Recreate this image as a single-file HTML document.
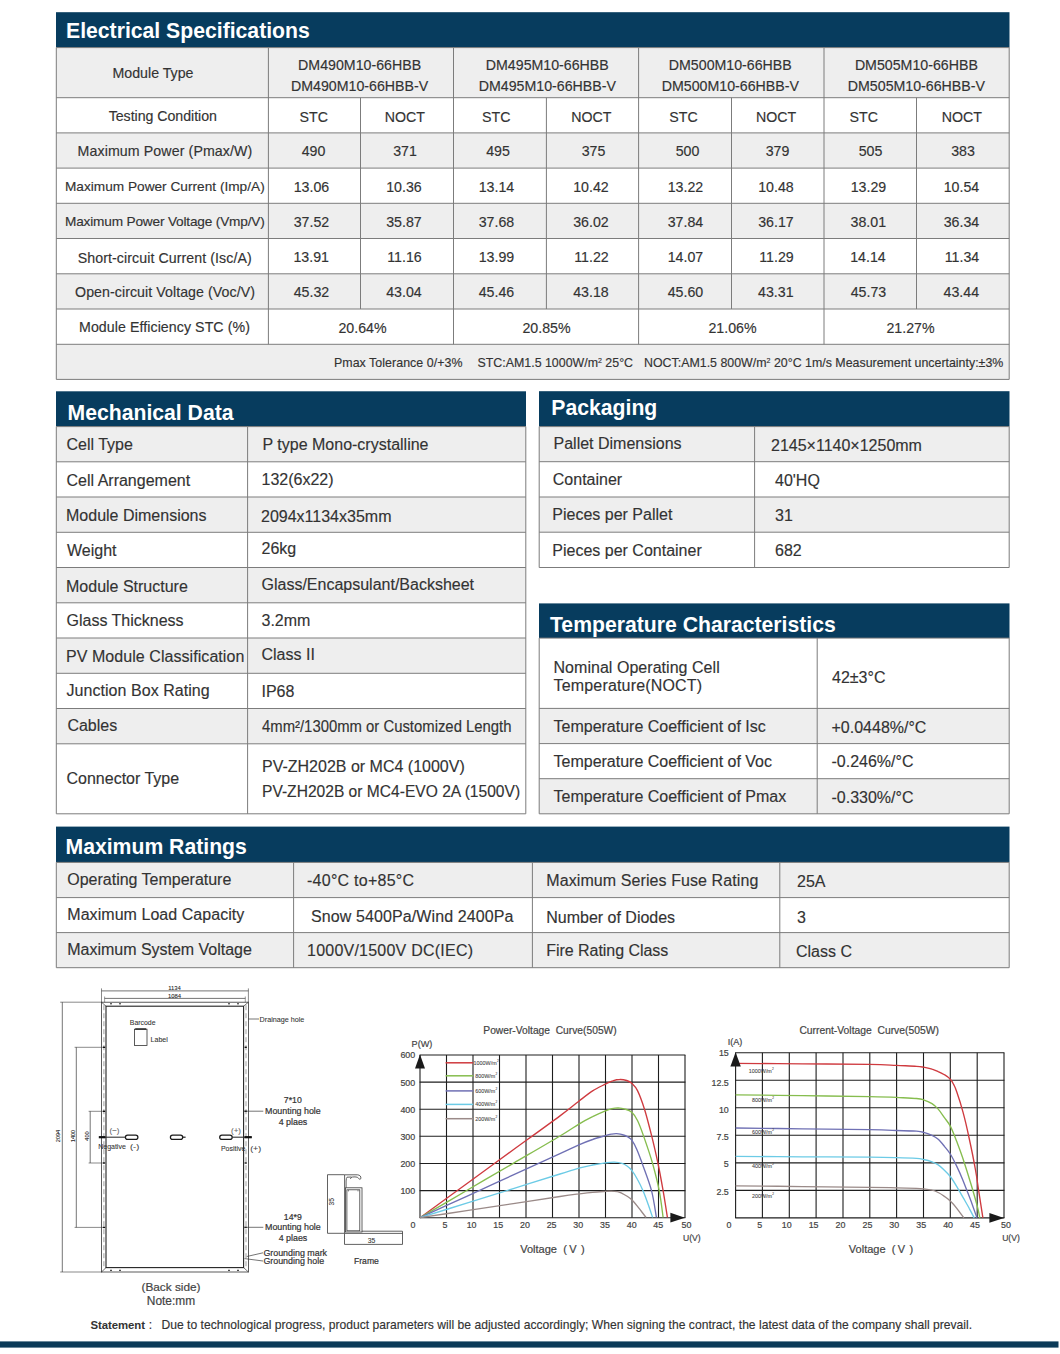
<!DOCTYPE html>
<html><head><meta charset="utf-8"><title>Datasheet</title>
<style>
html,body{margin:0;padding:0;background:#fff;}
body{width:1060px;height:1354px;position:relative;overflow:hidden;font-family:"Liberation Sans",sans-serif;color:#333333;}
.t{position:absolute;white-space:nowrap;line-height:20px;height:20px;-webkit-text-stroke-width:0.15px;}
svg{position:absolute;left:0;top:0;}
svg text{font-family:"Liberation Sans",sans-serif;}
</style></head><body>
<svg width="1060" height="1354" viewBox="0 0 1060 1354">
<rect x="56.0" y="12.2" width="953.5" height="35.4" fill="#073c5e"/>
<rect x="56.3" y="47.6" width="952.9" height="50.1" fill="#eeeeee"/>
<rect x="56.3" y="97.7" width="952.9" height="35.2" fill="#fff"/>
<rect x="56.3" y="132.9" width="952.9" height="35.2" fill="#eeeeee"/>
<rect x="56.3" y="168.1" width="952.9" height="35.2" fill="#fff"/>
<rect x="56.3" y="203.3" width="952.9" height="35.2" fill="#eeeeee"/>
<rect x="56.3" y="238.5" width="952.9" height="35.3" fill="#fff"/>
<rect x="56.3" y="273.8" width="952.9" height="35.2" fill="#eeeeee"/>
<rect x="56.3" y="309.0" width="952.9" height="35.3" fill="#fff"/>
<rect x="56.3" y="344.3" width="952.9" height="35.1" fill="#eeeeee"/>
<line x1="56.3" y1="97.7" x2="1009.2" y2="97.7" stroke="#7c7c7c" stroke-width="1.0"/>
<line x1="56.3" y1="132.9" x2="1009.2" y2="132.9" stroke="#7c7c7c" stroke-width="1.0"/>
<line x1="56.3" y1="168.1" x2="1009.2" y2="168.1" stroke="#7c7c7c" stroke-width="1.0"/>
<line x1="56.3" y1="203.3" x2="1009.2" y2="203.3" stroke="#7c7c7c" stroke-width="1.0"/>
<line x1="56.3" y1="238.5" x2="1009.2" y2="238.5" stroke="#7c7c7c" stroke-width="1.0"/>
<line x1="56.3" y1="273.8" x2="1009.2" y2="273.8" stroke="#7c7c7c" stroke-width="1.0"/>
<line x1="56.3" y1="309.0" x2="1009.2" y2="309.0" stroke="#7c7c7c" stroke-width="1.0"/>
<line x1="56.3" y1="344.3" x2="1009.2" y2="344.3" stroke="#7c7c7c" stroke-width="1.0"/>
<line x1="56.3" y1="379.4" x2="1009.2" y2="379.4" stroke="#7c7c7c" stroke-width="1.0"/>
<line x1="56.3" y1="47.6" x2="1009.2" y2="47.6" stroke="#7c7c7c" stroke-width="1.0"/>
<line x1="56.3" y1="47.6" x2="56.3" y2="379.4" stroke="#7c7c7c" stroke-width="1.0"/>
<line x1="1009.2" y1="47.6" x2="1009.2" y2="379.4" stroke="#7c7c7c" stroke-width="1.0"/>
<line x1="268.4" y1="47.6" x2="268.4" y2="344.3" stroke="#7c7c7c" stroke-width="1.0"/>
<line x1="360.5" y1="97.7" x2="360.5" y2="309.0" stroke="#7c7c7c" stroke-width="1.0"/>
<line x1="453.5" y1="47.6" x2="453.5" y2="344.3" stroke="#7c7c7c" stroke-width="1.0"/>
<line x1="546.4" y1="97.7" x2="546.4" y2="309.0" stroke="#7c7c7c" stroke-width="1.0"/>
<line x1="638.6" y1="47.6" x2="638.6" y2="344.3" stroke="#7c7c7c" stroke-width="1.0"/>
<line x1="731.5" y1="97.7" x2="731.5" y2="309.0" stroke="#7c7c7c" stroke-width="1.0"/>
<line x1="824.0" y1="47.6" x2="824.0" y2="344.3" stroke="#7c7c7c" stroke-width="1.0"/>
<line x1="916.5" y1="97.7" x2="916.5" y2="309.0" stroke="#7c7c7c" stroke-width="1.0"/>
<rect x="56.0" y="391.3" width="470.0" height="35.3" fill="#073c5e"/>
<rect x="56.3" y="426.6" width="469.5" height="35.2" fill="#eeeeee"/>
<rect x="56.3" y="461.8" width="469.5" height="35.2" fill="#fff"/>
<rect x="56.3" y="497.0" width="469.5" height="35.3" fill="#eeeeee"/>
<rect x="56.3" y="532.3" width="469.5" height="35.2" fill="#fff"/>
<rect x="56.3" y="567.5" width="469.5" height="35.3" fill="#eeeeee"/>
<rect x="56.3" y="602.8" width="469.5" height="35.2" fill="#fff"/>
<rect x="56.3" y="638.0" width="469.5" height="35.3" fill="#eeeeee"/>
<rect x="56.3" y="673.3" width="469.5" height="35.2" fill="#fff"/>
<rect x="56.3" y="708.5" width="469.5" height="35.3" fill="#eeeeee"/>
<rect x="56.3" y="743.8" width="469.5" height="70.0" fill="#fff"/>
<line x1="56.3" y1="461.8" x2="525.8" y2="461.8" stroke="#7c7c7c" stroke-width="1.0"/>
<line x1="56.3" y1="497.0" x2="525.8" y2="497.0" stroke="#7c7c7c" stroke-width="1.0"/>
<line x1="56.3" y1="532.3" x2="525.8" y2="532.3" stroke="#7c7c7c" stroke-width="1.0"/>
<line x1="56.3" y1="567.5" x2="525.8" y2="567.5" stroke="#7c7c7c" stroke-width="1.0"/>
<line x1="56.3" y1="602.8" x2="525.8" y2="602.8" stroke="#7c7c7c" stroke-width="1.0"/>
<line x1="56.3" y1="638.0" x2="525.8" y2="638.0" stroke="#7c7c7c" stroke-width="1.0"/>
<line x1="56.3" y1="673.3" x2="525.8" y2="673.3" stroke="#7c7c7c" stroke-width="1.0"/>
<line x1="56.3" y1="708.5" x2="525.8" y2="708.5" stroke="#7c7c7c" stroke-width="1.0"/>
<line x1="56.3" y1="743.8" x2="525.8" y2="743.8" stroke="#7c7c7c" stroke-width="1.0"/>
<line x1="56.3" y1="813.8" x2="525.8" y2="813.8" stroke="#7c7c7c" stroke-width="1.0"/>
<line x1="56.3" y1="426.6" x2="525.8" y2="426.6" stroke="#7c7c7c" stroke-width="1.0"/>
<line x1="56.3" y1="426.6" x2="56.3" y2="813.8" stroke="#7c7c7c" stroke-width="1.0"/>
<line x1="525.8" y1="426.6" x2="525.8" y2="813.8" stroke="#7c7c7c" stroke-width="1.0"/>
<line x1="247.6" y1="426.6" x2="247.6" y2="813.8" stroke="#7c7c7c" stroke-width="1.0"/>
<rect x="539.0" y="391.2" width="470.5" height="35.4" fill="#073c5e"/>
<rect x="539.2" y="426.6" width="470.0" height="35.1" fill="#eeeeee"/>
<rect x="539.2" y="461.7" width="470.0" height="35.3" fill="#fff"/>
<rect x="539.2" y="497.0" width="470.0" height="35.2" fill="#eeeeee"/>
<rect x="539.2" y="532.2" width="470.0" height="35.3" fill="#fff"/>
<line x1="539.2" y1="461.7" x2="1009.2" y2="461.7" stroke="#7c7c7c" stroke-width="1.0"/>
<line x1="539.2" y1="497.0" x2="1009.2" y2="497.0" stroke="#7c7c7c" stroke-width="1.0"/>
<line x1="539.2" y1="532.2" x2="1009.2" y2="532.2" stroke="#7c7c7c" stroke-width="1.0"/>
<line x1="539.2" y1="567.5" x2="1009.2" y2="567.5" stroke="#7c7c7c" stroke-width="1.0"/>
<line x1="539.2" y1="426.6" x2="1009.2" y2="426.6" stroke="#7c7c7c" stroke-width="1.0"/>
<line x1="539.2" y1="426.6" x2="539.2" y2="567.5" stroke="#7c7c7c" stroke-width="1.0"/>
<line x1="1009.2" y1="426.6" x2="1009.2" y2="567.5" stroke="#7c7c7c" stroke-width="1.0"/>
<line x1="754.6" y1="426.6" x2="754.6" y2="567.5" stroke="#7c7c7c" stroke-width="1.0"/>
<rect x="539.0" y="603.4" width="470.5" height="34.7" fill="#073c5e"/>
<rect x="539.2" y="638.1" width="470.0" height="70.3" fill="#fff"/>
<rect x="539.2" y="708.4" width="470.0" height="35.2" fill="#eeeeee"/>
<rect x="539.2" y="743.6" width="470.0" height="35.1" fill="#fff"/>
<rect x="539.2" y="778.7" width="470.0" height="35.1" fill="#eeeeee"/>
<line x1="539.2" y1="708.4" x2="1009.2" y2="708.4" stroke="#7c7c7c" stroke-width="1.0"/>
<line x1="539.2" y1="743.6" x2="1009.2" y2="743.6" stroke="#7c7c7c" stroke-width="1.0"/>
<line x1="539.2" y1="778.7" x2="1009.2" y2="778.7" stroke="#7c7c7c" stroke-width="1.0"/>
<line x1="539.2" y1="813.8" x2="1009.2" y2="813.8" stroke="#7c7c7c" stroke-width="1.0"/>
<line x1="539.2" y1="638.1" x2="1009.2" y2="638.1" stroke="#7c7c7c" stroke-width="1.0"/>
<line x1="539.2" y1="638.1" x2="539.2" y2="813.8" stroke="#7c7c7c" stroke-width="1.0"/>
<line x1="1009.2" y1="638.1" x2="1009.2" y2="813.8" stroke="#7c7c7c" stroke-width="1.0"/>
<line x1="817.2" y1="638.1" x2="817.2" y2="813.8" stroke="#7c7c7c" stroke-width="1.0"/>
<rect x="56.0" y="826.6" width="953.5" height="35.8" fill="#073c5e"/>
<rect x="56.3" y="862.4" width="952.9" height="35.2" fill="#eeeeee"/>
<rect x="56.3" y="897.6" width="952.9" height="35.0" fill="#fff"/>
<rect x="56.3" y="932.6" width="952.9" height="35.1" fill="#eeeeee"/>
<line x1="56.3" y1="897.6" x2="1009.2" y2="897.6" stroke="#7c7c7c" stroke-width="1.0"/>
<line x1="56.3" y1="932.6" x2="1009.2" y2="932.6" stroke="#7c7c7c" stroke-width="1.0"/>
<line x1="56.3" y1="967.7" x2="1009.2" y2="967.7" stroke="#7c7c7c" stroke-width="1.0"/>
<line x1="56.3" y1="862.4" x2="1009.2" y2="862.4" stroke="#7c7c7c" stroke-width="1.0"/>
<line x1="56.3" y1="862.4" x2="56.3" y2="967.7" stroke="#7c7c7c" stroke-width="1.0"/>
<line x1="1009.2" y1="862.4" x2="1009.2" y2="967.7" stroke="#7c7c7c" stroke-width="1.0"/>
<line x1="293.6" y1="862.4" x2="293.6" y2="967.7" stroke="#7c7c7c" stroke-width="1.0"/>
<line x1="532.4" y1="862.4" x2="532.4" y2="967.7" stroke="#7c7c7c" stroke-width="1.0"/>
<line x1="779.8" y1="862.4" x2="779.8" y2="967.7" stroke="#7c7c7c" stroke-width="1.0"/>
<rect x="0" y="1341.4" width="1058.5" height="6.2" fill="#0b3a58"/>
<rect x="101.5" y="1002.2" width="146.9" height="269.8" fill="none" stroke="#333" stroke-width="0.8" rx="0"/>
<rect x="106.0" y="1006.2" width="137.6" height="261.4" fill="none" stroke="#222" stroke-width="1.1" rx="0"/>
<line x1="103.9" y1="1005.2" x2="103.9" y2="1269.0" stroke="#777" stroke-width="0.7" stroke-dasharray="5 3"/>
<line x1="246.0" y1="1005.2" x2="246.0" y2="1269.0" stroke="#777" stroke-width="0.7" stroke-dasharray="5 3"/>
<line x1="101.5" y1="1002.2" x2="106.0" y2="1006.2" stroke="#333" stroke-width="0.7" />
<line x1="248.4" y1="1002.2" x2="243.6" y2="1006.2" stroke="#333" stroke-width="0.7" />
<line x1="101.5" y1="1272.0" x2="106.0" y2="1267.6" stroke="#333" stroke-width="0.7" />
<line x1="248.4" y1="1272.0" x2="243.6" y2="1267.6" stroke="#333" stroke-width="0.7" />
<line x1="110.0" y1="1003.8" x2="112.0" y2="1003.8" stroke="#222" stroke-width="1.0" />
<line x1="110.0" y1="1270.3" x2="112.0" y2="1270.3" stroke="#222" stroke-width="1.0" />
<line x1="119.0" y1="1003.8" x2="121.0" y2="1003.8" stroke="#222" stroke-width="1.0" />
<line x1="119.0" y1="1270.3" x2="121.0" y2="1270.3" stroke="#222" stroke-width="1.0" />
<line x1="228.0" y1="1003.8" x2="230.0" y2="1003.8" stroke="#222" stroke-width="1.0" />
<line x1="228.0" y1="1270.3" x2="230.0" y2="1270.3" stroke="#222" stroke-width="1.0" />
<line x1="237.0" y1="1003.8" x2="239.0" y2="1003.8" stroke="#222" stroke-width="1.0" />
<line x1="237.0" y1="1270.3" x2="239.0" y2="1270.3" stroke="#222" stroke-width="1.0" />
<line x1="101.5" y1="988.4" x2="101.5" y2="1002.2" stroke="#3a3a3a" stroke-width="0.6" />
<line x1="248.4" y1="988.4" x2="248.4" y2="1002.2" stroke="#3a3a3a" stroke-width="0.6" />
<line x1="101.5" y1="990.9" x2="248.4" y2="990.9" stroke="#3a3a3a" stroke-width="0.7" />
<text x="174.5" y="990.01" font-size="5.9" text-anchor="middle" fill="#222" stroke="#222" stroke-width="0.08">1134</text>
<line x1="104.6" y1="996.5" x2="104.6" y2="1002.2" stroke="#3a3a3a" stroke-width="0.5" />
<line x1="245.3" y1="996.5" x2="245.3" y2="1002.2" stroke="#3a3a3a" stroke-width="0.5" />
<line x1="104.6" y1="998.4" x2="245.3" y2="998.4" stroke="#3a3a3a" stroke-width="0.7" />
<text x="174.5" y="997.71" font-size="5.9" text-anchor="middle" fill="#222" stroke="#222" stroke-width="0.08">1084</text>
<line x1="60.2" y1="1002.2" x2="101.5" y2="1002.2" stroke="#3a3a3a" stroke-width="0.6" />
<line x1="60.2" y1="1272.0" x2="101.5" y2="1272.0" stroke="#3a3a3a" stroke-width="0.6" />
<line x1="62.3" y1="1002.2" x2="62.3" y2="1272.0" stroke="#3a3a3a" stroke-width="0.7" />
<text x="58.4" y="1138.00" font-size="5.6" text-anchor="middle" fill="#222" stroke="#222" stroke-width="0.08" transform="rotate(-90 58.4 1136.0)">2094</text>
<line x1="74.6" y1="1047.3" x2="104.0" y2="1047.3" stroke="#3a3a3a" stroke-width="0.6" />
<line x1="74.6" y1="1227.4" x2="104.0" y2="1227.4" stroke="#3a3a3a" stroke-width="0.6" />
<line x1="76.3" y1="1047.3" x2="76.3" y2="1227.4" stroke="#3a3a3a" stroke-width="0.7" />
<text x="72.9" y="1138.00" font-size="5.6" text-anchor="middle" fill="#222" stroke="#222" stroke-width="0.08" transform="rotate(-90 72.9 1136.0)">1400</text>
<line x1="88.6" y1="1111.3" x2="104.0" y2="1111.3" stroke="#3a3a3a" stroke-width="0.6" />
<line x1="88.6" y1="1163.0" x2="104.0" y2="1163.0" stroke="#3a3a3a" stroke-width="0.6" />
<line x1="90.2" y1="1111.3" x2="90.2" y2="1163.0" stroke="#3a3a3a" stroke-width="0.7" />
<text x="87.1" y="1138.00" font-size="5.6" text-anchor="middle" fill="#222" stroke="#222" stroke-width="0.08" transform="rotate(-90 87.1 1136.0)">400</text>
<line x1="103.0" y1="1047.3" x2="105.2" y2="1047.3" stroke="#111" stroke-width="1.4" />
<line x1="244.6" y1="1047.3" x2="246.8" y2="1047.3" stroke="#111" stroke-width="1.4" />
<line x1="103.0" y1="1111.3" x2="105.2" y2="1111.3" stroke="#111" stroke-width="1.4" />
<line x1="244.6" y1="1111.3" x2="246.8" y2="1111.3" stroke="#111" stroke-width="1.4" />
<line x1="103.0" y1="1163.0" x2="105.2" y2="1163.0" stroke="#111" stroke-width="1.4" />
<line x1="244.6" y1="1163.0" x2="246.8" y2="1163.0" stroke="#111" stroke-width="1.4" />
<line x1="103.0" y1="1227.4" x2="105.2" y2="1227.4" stroke="#111" stroke-width="1.4" />
<line x1="244.6" y1="1227.4" x2="246.8" y2="1227.4" stroke="#111" stroke-width="1.4" />
<text x="129.8" y="1025.47" font-size="6.9" text-anchor="start" fill="#333" stroke="#333" stroke-width="0.08">Barcode</text>
<rect x="134.4" y="1029.2" width="12.6" height="16.3" fill="none" stroke="#333" stroke-width="0.8" rx="0"/>
<line x1="135.2" y1="1029.0" x2="146.2" y2="1029.0" stroke="#111" stroke-width="1.3" />
<text x="150.6" y="1042.41" font-size="7.0" text-anchor="start" fill="#333" stroke="#333" stroke-width="0.08">Label</text>
<rect x="125.4" y="1135.0" width="12.5" height="4.4" fill="none" stroke="#1a1a1a" stroke-width="1.25" rx="2.2"/>
<rect x="170.4" y="1135.0" width="12.3" height="4.4" fill="none" stroke="#1a1a1a" stroke-width="1.25" rx="2.2"/>
<rect x="219.7" y="1135.0" width="12.5" height="4.4" fill="none" stroke="#1a1a1a" stroke-width="1.25" rx="2.2"/>
<line x1="182.7" y1="1137.2" x2="185.6" y2="1137.2" stroke="#222" stroke-width="1.2" />
<line x1="99.0" y1="1137.2" x2="125.4" y2="1137.2" stroke="#333" stroke-width="1.1" />
<line x1="98.8" y1="1137.2" x2="105.4" y2="1137.2" stroke="#111" stroke-width="2.2" />
<line x1="232.2" y1="1137.2" x2="251.6" y2="1137.2" stroke="#333" stroke-width="1.1" />
<line x1="244.5" y1="1137.2" x2="251.8" y2="1137.2" stroke="#111" stroke-width="2.2" />
<text x="114.5" y="1133.46" font-size="8" text-anchor="middle" fill="#666" stroke="#666" stroke-width="0.08">(&#8722;)</text>
<text x="236.0" y="1132.66" font-size="8" text-anchor="middle" fill="#666" stroke="#666" stroke-width="0.08">(+)</text>
<text x="98.2" y="1149.11" font-size="7.0" text-anchor="start" fill="#333" stroke="#333" stroke-width="0.08">Negative</text>
<text x="130.0" y="1149.18" font-size="7.2" text-anchor="start" fill="#444" stroke="#444" stroke-width="0.08" textLength="9.2" lengthAdjust="spacingAndGlyphs">(-)</text>
<text x="220.9" y="1150.51" font-size="7.0" text-anchor="start" fill="#333" stroke="#333" stroke-width="0.08">Positive</text>
<text x="250.2" y="1150.58" font-size="7.2" text-anchor="start" fill="#444" stroke="#444" stroke-width="0.08" textLength="11.0" lengthAdjust="spacingAndGlyphs">(+)</text>
<line x1="248.4" y1="1019.0" x2="259.0" y2="1019.0" stroke="#3a3a3a" stroke-width="0.7" />
<text x="259.6" y="1021.78" font-size="7.2" text-anchor="start" fill="#333" stroke="#333" stroke-width="0.08">Drainage hole</text>
<text x="292.8" y="1103.31" font-size="8.7" text-anchor="middle" fill="#333" stroke="#333" stroke-width="0.2">7*10</text>
<line x1="243.6" y1="1111.2" x2="263.3" y2="1111.2" stroke="#3a3a3a" stroke-width="0.7" />
<text x="265.0" y="1114.39" font-size="8.9" text-anchor="start" fill="#333" stroke="#333" stroke-width="0.2">Mounting hole</text>
<text x="293.0" y="1124.59" font-size="8.9" text-anchor="middle" fill="#333" stroke="#333" stroke-width="0.2">4 plaes</text>
<text x="292.8" y="1219.51" font-size="8.7" text-anchor="middle" fill="#333" stroke="#333" stroke-width="0.2">14*9</text>
<line x1="243.6" y1="1227.3" x2="263.3" y2="1227.3" stroke="#3a3a3a" stroke-width="0.7" />
<text x="265.0" y="1230.49" font-size="8.9" text-anchor="start" fill="#333" stroke="#333" stroke-width="0.2">Mounting hole</text>
<text x="293.0" y="1241.19" font-size="8.9" text-anchor="middle" fill="#333" stroke="#333" stroke-width="0.2">4 plaes</text>
<line x1="246.8" y1="1256.5" x2="263.0" y2="1252.8" stroke="#3a3a3a" stroke-width="0.7" />
<line x1="244.5" y1="1258.6" x2="263.0" y2="1261.0" stroke="#3a3a3a" stroke-width="0.7" />
<text x="263.4" y="1255.79" font-size="8.9" text-anchor="start" fill="#333" stroke="#333" stroke-width="0.2">Grounding mark</text>
<text x="263.4" y="1264.19" font-size="8.9" text-anchor="start" fill="#333" stroke="#333" stroke-width="0.2">Grounding hole</text>
<text x="171.0" y="1290.52" font-size="11.8" text-anchor="middle" fill="#444" stroke="#444" stroke-width="0.2">(Back side)</text>
<text x="171.0" y="1305.26" font-size="11.9" text-anchor="middle" fill="#444" stroke="#444" stroke-width="0.2" textLength="48.3" lengthAdjust="spacingAndGlyphs">Note:mm</text>
<line x1="327.5" y1="1174.7" x2="344.5" y2="1174.7" stroke="#3a3a3a" stroke-width="0.8" />
<line x1="327.5" y1="1174.7" x2="327.5" y2="1233.3" stroke="#3a3a3a" stroke-width="0.8" />
<line x1="327.5" y1="1233.3" x2="344.5" y2="1233.3" stroke="#3a3a3a" stroke-width="0.8" />
<text x="331.9" y="1204.06" font-size="6.6" text-anchor="middle" fill="#333" stroke="#333" stroke-width="0.08" transform="rotate(-90 331.9 1201.7)">35</text>
<path d="M344.6,1233.2 L344.6,1174.8 L357.5,1174.8 Q361.2,1175.2 360.9,1178.6 Q360.0,1180.2 358.6,1178.4 Q357.8,1176.8 355.0,1176.9 L352.5,1177.0 Q350.8,1177.2 350.4,1178.9 M351.5,1177.0 L347.0,1177.2 Q346.2,1178 346.1,1181 L346.1,1187.6" fill="none" stroke="#3a3a3a" stroke-width="0.8"/>
<rect x="345.4" y="1187.8" width="16.6" height="44.2" fill="none" stroke="#3a3a3a" stroke-width="0.8" rx="0"/>
<rect x="346.9" y="1189.8" width="12.9" height="41.0" fill="none" stroke="#3a3a3a" stroke-width="0.8" rx="0"/>
<line x1="348.0" y1="1190.8" x2="349.0" y2="1190.8" stroke="#333" stroke-width="0.8" />
<line x1="357.5" y1="1190.8" x2="358.5" y2="1190.8" stroke="#333" stroke-width="0.8" />
<line x1="362.0" y1="1231.2" x2="402.4" y2="1231.2" stroke="#3a3a3a" stroke-width="0.8" />
<line x1="344.5" y1="1233.4" x2="402.6" y2="1233.4" stroke="#3a3a3a" stroke-width="0.8" />
<line x1="402.5" y1="1231.2" x2="402.5" y2="1244.4" stroke="#3a3a3a" stroke-width="0.8" />
<line x1="344.5" y1="1233.4" x2="344.5" y2="1244.4" stroke="#3a3a3a" stroke-width="0.8" />
<line x1="344.5" y1="1244.4" x2="402.5" y2="1244.4" stroke="#3a3a3a" stroke-width="0.8" />
<text x="371.6" y="1242.93" font-size="6.8" text-anchor="middle" fill="#333" stroke="#333" stroke-width="0.08">35</text>
<text x="354.0" y="1263.58" font-size="8.6" text-anchor="start" fill="#333" stroke="#333" stroke-width="0.2">Frame</text>
<line x1="420.0" y1="1055.0" x2="420.0" y2="1217.7" stroke="#1e1e1e" stroke-width="1.1" />
<line x1="446.5" y1="1055.0" x2="446.5" y2="1217.7" stroke="#1e1e1e" stroke-width="1.1" />
<line x1="473.0" y1="1055.0" x2="473.0" y2="1217.7" stroke="#1e1e1e" stroke-width="1.1" />
<line x1="499.5" y1="1055.0" x2="499.5" y2="1217.7" stroke="#1e1e1e" stroke-width="1.1" />
<line x1="526.0" y1="1055.0" x2="526.0" y2="1217.7" stroke="#1e1e1e" stroke-width="1.1" />
<line x1="552.5" y1="1055.0" x2="552.5" y2="1217.7" stroke="#1e1e1e" stroke-width="1.1" />
<line x1="579.0" y1="1055.0" x2="579.0" y2="1217.7" stroke="#1e1e1e" stroke-width="1.1" />
<line x1="605.5" y1="1055.0" x2="605.5" y2="1217.7" stroke="#1e1e1e" stroke-width="1.1" />
<line x1="632.0" y1="1055.0" x2="632.0" y2="1217.7" stroke="#1e1e1e" stroke-width="1.1" />
<line x1="658.5" y1="1055.0" x2="658.5" y2="1217.7" stroke="#1e1e1e" stroke-width="1.1" />
<line x1="685.0" y1="1055.0" x2="685.0" y2="1217.7" stroke="#1e1e1e" stroke-width="1.1" />
<line x1="419.6" y1="1055.0" x2="685.4" y2="1055.0" stroke="#1e1e1e" stroke-width="1.1" />
<line x1="419.6" y1="1082.1" x2="685.4" y2="1082.1" stroke="#1e1e1e" stroke-width="1.1" />
<line x1="419.6" y1="1109.2" x2="685.4" y2="1109.2" stroke="#1e1e1e" stroke-width="1.1" />
<line x1="419.6" y1="1136.3" x2="685.4" y2="1136.3" stroke="#1e1e1e" stroke-width="1.1" />
<line x1="419.6" y1="1163.5" x2="685.4" y2="1163.5" stroke="#1e1e1e" stroke-width="1.1" />
<line x1="419.6" y1="1190.6" x2="685.4" y2="1190.6" stroke="#1e1e1e" stroke-width="1.1" />
<line x1="419.6" y1="1217.7" x2="685.4" y2="1217.7" stroke="#1e1e1e" stroke-width="1.1" />
<path d="M420.0,1217.7 C427.8,1212.0 451.1,1195.1 466.7,1183.8 C482.2,1172.5 497.8,1161.1 513.3,1149.8 C528.9,1138.5 549.1,1124.0 560.0,1115.9 C570.9,1107.8 573.5,1105.3 578.9,1101.2 C584.3,1097.0 588.1,1093.8 592.6,1090.9 C597.0,1088.1 602.1,1085.8 605.4,1084.1 C608.8,1082.4 610.3,1081.6 612.7,1080.9 C615.1,1080.1 617.4,1079.5 619.7,1079.5 C622.0,1079.4 624.7,1079.9 626.7,1080.5 C628.7,1081.2 630.0,1081.7 631.8,1083.3 C633.6,1085.0 635.4,1086.3 637.5,1090.6 C639.6,1094.9 642.1,1101.6 644.5,1109.2 C646.9,1116.8 649.5,1127.3 651.8,1136.4 C654.0,1145.4 656.1,1154.4 658.0,1163.5 C659.9,1172.5 661.5,1181.6 663.1,1190.6 C664.7,1199.6 666.7,1213.0 667.4,1217.4" fill="none" stroke="#cf3a3f" stroke-width="1.35"/>
<path d="M420.0,1217.7 C427.8,1213.2 451.1,1199.6 466.7,1190.5 C482.2,1181.4 497.8,1172.3 513.3,1163.3 C528.9,1154.2 549.1,1142.6 560.0,1136.0 C570.9,1129.5 573.5,1127.3 578.9,1124.1 C584.3,1120.9 588.1,1118.9 592.6,1116.7 C597.0,1114.4 602.2,1112.1 605.4,1110.8 C608.7,1109.4 609.8,1109.1 611.9,1108.6 C614.1,1108.1 615.9,1107.8 618.1,1107.8 C620.3,1107.9 622.8,1108.3 625.1,1109.1 C627.4,1109.8 629.7,1110.4 631.8,1112.3 C633.9,1114.2 635.5,1116.5 637.5,1120.5 C639.5,1124.5 641.2,1129.2 643.7,1136.4 C646.2,1143.5 650.0,1154.4 652.6,1163.5 C655.1,1172.5 657.5,1181.6 659.2,1190.6 C661.0,1199.6 662.5,1213.0 663.1,1217.4" fill="none" stroke="#86bd4e" stroke-width="1.35"/>
<path d="M420.0,1217.7 C427.8,1214.1 451.1,1203.4 466.7,1196.3 C482.2,1189.2 497.8,1182.1 513.3,1174.9 C528.9,1167.8 549.1,1158.6 560.0,1153.6 C570.9,1148.6 573.5,1147.2 578.9,1144.9 C584.3,1142.5 588.1,1141.0 592.6,1139.5 C597.0,1137.9 602.3,1136.5 605.4,1135.6 C608.5,1134.7 609.3,1134.5 611.2,1134.2 C613.0,1133.9 614.5,1133.6 616.6,1133.7 C618.7,1133.9 621.6,1134.4 623.6,1135.0 C625.5,1135.5 626.8,1136.3 628.2,1137.1 C629.6,1138.0 630.4,1138.2 631.8,1140.2 C633.2,1142.2 635.0,1145.3 636.7,1149.2 C638.5,1153.1 639.7,1156.6 642.2,1163.5 C644.6,1170.4 649.1,1181.6 651.5,1190.6 C653.9,1199.6 655.6,1213.0 656.4,1217.4" fill="none" stroke="#6f70b4" stroke-width="1.35"/>
<path d="M420.0,1217.7 C427.8,1215.3 451.1,1208.0 466.7,1203.1 C482.2,1198.3 497.8,1193.4 513.3,1188.6 C528.9,1183.7 549.1,1177.4 560.0,1174.0 C570.9,1170.6 573.5,1169.6 578.9,1168.1 C584.3,1166.6 588.1,1165.9 592.6,1165.0 C597.0,1164.2 601.8,1163.4 605.4,1162.9 C609.0,1162.4 611.5,1162.0 614.3,1162.1 C617.0,1162.2 619.9,1162.7 622.0,1163.3 C624.1,1163.9 625.0,1164.5 626.7,1165.7 C628.3,1166.8 630.0,1168.0 631.8,1170.3 C633.6,1172.6 635.7,1176.1 637.5,1179.5 C639.4,1182.8 641.1,1186.4 642.9,1190.6 C644.8,1194.9 646.8,1200.6 648.4,1205.0 C650.0,1209.5 651.9,1215.4 652.6,1217.4" fill="none" stroke="#6ccbe6" stroke-width="1.35"/>
<path d="M420.0,1217.7 C427.8,1216.5 451.1,1213.0 466.7,1210.6 C482.2,1208.3 497.8,1205.9 513.3,1203.6 C528.9,1201.2 549.1,1198.1 560.0,1196.5 C570.9,1194.9 573.5,1194.6 578.9,1193.9 C584.3,1193.2 588.1,1192.7 592.6,1192.3 C597.0,1191.9 602.3,1191.6 605.4,1191.4 C608.5,1191.2 609.2,1191.1 611.2,1191.1 C613.2,1191.1 615.6,1191.2 617.4,1191.6 C619.2,1191.9 620.5,1192.7 622.0,1193.4 C623.6,1194.2 625.0,1195.0 626.7,1196.0 C628.3,1197.1 629.7,1197.7 631.8,1199.8 C633.9,1201.8 636.7,1205.5 639.1,1208.4 C641.4,1211.4 644.9,1215.9 646.0,1217.4" fill="none" stroke="#9a8a88" stroke-width="1.35"/>
<path d="M420.0,1054.5 L415.0,1068.6 L425.0,1068.6 Z" fill="#1a1a1a"/>
<path d="M685.0,1217.7 L670.4,1212.8 L670.4,1222.6000000000001 Z" fill="#1a1a1a"/>
<text x="411.6" y="1047.46" font-size="9.1" text-anchor="start" fill="#444" stroke="#444" stroke-width="0.2">P(W)</text>
<text x="415.2" y="1058.39" font-size="8.9" text-anchor="end" fill="#444" stroke="#444" stroke-width="0.2">600</text>
<text x="415.2" y="1085.51" font-size="8.9" text-anchor="end" fill="#444" stroke="#444" stroke-width="0.2">500</text>
<text x="415.2" y="1112.63" font-size="8.9" text-anchor="end" fill="#444" stroke="#444" stroke-width="0.2">400</text>
<text x="415.2" y="1139.75" font-size="8.9" text-anchor="end" fill="#444" stroke="#444" stroke-width="0.2">300</text>
<text x="415.2" y="1166.87" font-size="8.9" text-anchor="end" fill="#444" stroke="#444" stroke-width="0.2">200</text>
<text x="415.2" y="1193.99" font-size="8.9" text-anchor="end" fill="#444" stroke="#444" stroke-width="0.2">100</text>
<text x="413.0" y="1227.59" font-size="8.9" text-anchor="middle" fill="#444" stroke="#444" stroke-width="0.2">0</text>
<text x="444.9" y="1228.09" font-size="8.9" text-anchor="middle" fill="#444" stroke="#444" stroke-width="0.2">5</text>
<text x="471.6" y="1228.09" font-size="8.9" text-anchor="middle" fill="#444" stroke="#444" stroke-width="0.2">10</text>
<text x="498.3" y="1228.09" font-size="8.9" text-anchor="middle" fill="#444" stroke="#444" stroke-width="0.2">15</text>
<text x="524.9" y="1228.09" font-size="8.9" text-anchor="middle" fill="#444" stroke="#444" stroke-width="0.2">20</text>
<text x="551.6" y="1228.09" font-size="8.9" text-anchor="middle" fill="#444" stroke="#444" stroke-width="0.2">25</text>
<text x="578.3" y="1228.09" font-size="8.9" text-anchor="middle" fill="#444" stroke="#444" stroke-width="0.2">30</text>
<text x="605.0" y="1228.09" font-size="8.9" text-anchor="middle" fill="#444" stroke="#444" stroke-width="0.2">35</text>
<text x="631.7" y="1228.09" font-size="8.9" text-anchor="middle" fill="#444" stroke="#444" stroke-width="0.2">40</text>
<text x="658.3" y="1228.09" font-size="8.9" text-anchor="middle" fill="#444" stroke="#444" stroke-width="0.2">45</text>
<text x="686.5" y="1228.09" font-size="8.9" text-anchor="middle" fill="#444" stroke="#444" stroke-width="0.2">50</text>
<text x="691.8" y="1241.38" font-size="8.6" text-anchor="middle" fill="#444" stroke="#444" stroke-width="0.2">U(V)</text>
<text x="520.2" y="1252.84" font-size="11.0" text-anchor="start" fill="#444" stroke="#444" stroke-width="0.2" textLength="36.8" lengthAdjust="spacingAndGlyphs">Voltage</text>
<text x="563.2" y="1252.54" font-size="11.0" text-anchor="start" fill="#444" stroke="#444" stroke-width="0.2">(</text>
<text x="569.2" y="1252.84" font-size="11.0" text-anchor="start" fill="#444" stroke="#444" stroke-width="0.2">V</text>
<text x="581.0" y="1252.54" font-size="11.0" text-anchor="start" fill="#444" stroke="#444" stroke-width="0.2">)</text>
<text x="848.8" y="1252.84" font-size="11.0" text-anchor="start" fill="#444" stroke="#444" stroke-width="0.2" textLength="36.8" lengthAdjust="spacingAndGlyphs">Voltage</text>
<text x="891.8" y="1252.54" font-size="11.0" text-anchor="start" fill="#444" stroke="#444" stroke-width="0.2">(</text>
<text x="897.8" y="1252.84" font-size="11.0" text-anchor="start" fill="#444" stroke="#444" stroke-width="0.2">V</text>
<text x="909.6" y="1252.54" font-size="11.0" text-anchor="start" fill="#444" stroke="#444" stroke-width="0.2">)</text>
<text x="483.3" y="1033.59" font-size="10.3" text-anchor="start" fill="#444" stroke="#444" stroke-width="0.2" textLength="133.4" lengthAdjust="spacingAndGlyphs">Power-Voltage&#160; Curve(505W)</text>
<line x1="445.6" y1="1062.8" x2="473.2" y2="1062.8" stroke="#cf3a3f" stroke-width="1.5" />
<text x="473.6" y="1064.73" font-size="5.4" text-anchor="start" fill="#444" stroke="#444" stroke-width="0.08">1000W/m</text>
<text x="496.9" y="1061.75" font-size="3.2" text-anchor="start" fill="#444" stroke="#444" stroke-width="0.08">2</text>
<line x1="445.6" y1="1075.8" x2="473.2" y2="1075.8" stroke="#86bd4e" stroke-width="1.5" />
<text x="475.2" y="1077.73" font-size="5.4" text-anchor="start" fill="#444" stroke="#444" stroke-width="0.08">800W/m</text>
<text x="495.5" y="1074.75" font-size="3.2" text-anchor="start" fill="#444" stroke="#444" stroke-width="0.08">2</text>
<line x1="445.6" y1="1090.9" x2="473.2" y2="1090.9" stroke="#6f70b4" stroke-width="1.5" />
<text x="475.2" y="1092.83" font-size="5.4" text-anchor="start" fill="#444" stroke="#444" stroke-width="0.08">600W/m</text>
<text x="495.5" y="1089.85" font-size="3.2" text-anchor="start" fill="#444" stroke="#444" stroke-width="0.08">2</text>
<line x1="445.6" y1="1104.4" x2="473.2" y2="1104.4" stroke="#6ccbe6" stroke-width="1.5" />
<text x="475.2" y="1106.33" font-size="5.4" text-anchor="start" fill="#444" stroke="#444" stroke-width="0.08">400W/m</text>
<text x="495.5" y="1103.35" font-size="3.2" text-anchor="start" fill="#444" stroke="#444" stroke-width="0.08">2</text>
<line x1="445.6" y1="1118.7" x2="473.2" y2="1118.7" stroke="#9a8a88" stroke-width="1.5" />
<text x="475.2" y="1120.63" font-size="5.4" text-anchor="start" fill="#444" stroke="#444" stroke-width="0.08">200W/m</text>
<text x="495.5" y="1117.65" font-size="3.2" text-anchor="start" fill="#444" stroke="#444" stroke-width="0.08">2</text>
<line x1="735.6" y1="1052.8" x2="735.6" y2="1217.9" stroke="#1e1e1e" stroke-width="1.1" />
<line x1="762.4" y1="1052.8" x2="762.4" y2="1217.9" stroke="#1e1e1e" stroke-width="1.1" />
<line x1="789.3" y1="1052.8" x2="789.3" y2="1217.9" stroke="#1e1e1e" stroke-width="1.1" />
<line x1="816.1" y1="1052.8" x2="816.1" y2="1217.9" stroke="#1e1e1e" stroke-width="1.1" />
<line x1="843.0" y1="1052.8" x2="843.0" y2="1217.9" stroke="#1e1e1e" stroke-width="1.1" />
<line x1="869.8" y1="1052.8" x2="869.8" y2="1217.9" stroke="#1e1e1e" stroke-width="1.1" />
<line x1="896.6" y1="1052.8" x2="896.6" y2="1217.9" stroke="#1e1e1e" stroke-width="1.1" />
<line x1="923.5" y1="1052.8" x2="923.5" y2="1217.9" stroke="#1e1e1e" stroke-width="1.1" />
<line x1="950.3" y1="1052.8" x2="950.3" y2="1217.9" stroke="#1e1e1e" stroke-width="1.1" />
<line x1="977.2" y1="1052.8" x2="977.2" y2="1217.9" stroke="#1e1e1e" stroke-width="1.1" />
<line x1="1004.0" y1="1052.8" x2="1004.0" y2="1217.9" stroke="#1e1e1e" stroke-width="1.1" />
<line x1="735.2" y1="1052.8" x2="1004.4" y2="1052.8" stroke="#1e1e1e" stroke-width="1.1" />
<line x1="735.2" y1="1080.3" x2="1004.4" y2="1080.3" stroke="#1e1e1e" stroke-width="1.1" />
<line x1="735.2" y1="1107.8" x2="1004.4" y2="1107.8" stroke="#1e1e1e" stroke-width="1.1" />
<line x1="735.2" y1="1135.3" x2="1004.4" y2="1135.3" stroke="#1e1e1e" stroke-width="1.1" />
<line x1="735.2" y1="1162.9" x2="1004.4" y2="1162.9" stroke="#1e1e1e" stroke-width="1.1" />
<line x1="735.2" y1="1190.4" x2="1004.4" y2="1190.4" stroke="#1e1e1e" stroke-width="1.1" />
<line x1="735.2" y1="1217.9" x2="1004.4" y2="1217.9" stroke="#1e1e1e" stroke-width="1.1" />
<path d="M735.6,1063.3 C746.8,1063.4 780.2,1063.7 802.6,1063.9 C824.9,1064.0 853.9,1064.2 869.5,1064.4 C885.2,1064.7 888.5,1065.0 896.4,1065.3 C904.2,1065.7 912.0,1066.0 916.5,1066.3 C921.0,1066.6 920.9,1066.7 923.5,1067.2 C926.1,1067.7 929.6,1068.3 932.0,1069.1 C934.5,1069.8 936.1,1070.6 938.2,1071.6 C940.3,1072.5 942.4,1073.4 944.4,1074.7 C946.4,1075.9 948.8,1077.6 950.3,1079.3 C951.9,1081.0 952.6,1082.5 953.7,1084.6 C954.8,1086.7 955.3,1087.4 956.8,1092.0 C958.4,1096.6 961.0,1104.4 963.0,1112.2 C965.1,1119.9 967.2,1129.0 969.2,1138.5 C971.3,1148.1 973.9,1161.0 975.4,1169.5 C977.0,1178.1 977.3,1181.6 978.5,1189.7 C979.8,1197.8 982.1,1213.2 982.9,1217.9" fill="none" stroke="#cf3a3f" stroke-width="1.35"/>
<path d="M735.6,1094.8 C746.8,1095.0 780.2,1095.4 802.6,1095.7 C824.9,1096.0 853.9,1096.4 869.5,1096.7 C885.2,1097.0 888.5,1097.1 896.4,1097.4 C904.2,1097.8 912.0,1098.1 916.5,1098.5 C921.0,1098.9 920.9,1098.9 923.5,1099.8 C926.1,1100.6 929.6,1102.1 932.0,1103.6 C934.5,1105.2 936.1,1106.7 938.2,1109.1 C940.3,1111.4 942.4,1114.8 944.4,1117.6 C946.4,1120.4 948.2,1122.1 950.3,1126.1 C952.4,1130.1 954.7,1136.2 956.8,1141.6 C958.9,1147.1 960.7,1151.7 963.0,1158.7 C965.3,1165.7 968.4,1175.5 970.8,1183.5 C973.2,1191.5 975.9,1201.0 977.4,1206.7 C978.9,1212.5 979.4,1216.0 979.8,1217.9" fill="none" stroke="#86bd4e" stroke-width="1.35"/>
<path d="M735.6,1128.0 C746.8,1128.1 780.2,1128.6 802.6,1128.8 C824.9,1129.1 853.9,1129.4 869.5,1129.7 C885.2,1130.0 888.5,1130.2 896.4,1130.5 C904.2,1130.7 912.0,1130.9 916.5,1131.2 C921.0,1131.6 920.9,1131.6 923.5,1132.3 C926.1,1133.0 929.6,1134.3 932.0,1135.4 C934.5,1136.6 936.1,1137.5 938.2,1139.3 C940.3,1141.1 942.4,1143.8 944.4,1146.3 C946.4,1148.7 948.2,1150.7 950.3,1154.0 C952.4,1157.4 954.7,1162.0 956.8,1166.4 C958.9,1170.8 960.7,1174.7 963.0,1180.4 C965.3,1186.1 968.4,1194.3 970.8,1200.5 C973.1,1206.8 975.9,1215.0 977.0,1217.9" fill="none" stroke="#6f70b4" stroke-width="1.35"/>
<path d="M735.6,1156.4 C746.8,1156.5 780.2,1156.6 802.6,1156.8 C824.9,1156.9 853.9,1157.0 869.5,1157.1 C885.2,1157.3 888.5,1157.4 896.4,1157.6 C904.2,1157.8 912.0,1158.1 916.5,1158.4 C921.0,1158.7 920.9,1158.9 923.5,1159.5 C926.1,1160.0 929.6,1160.9 932.0,1161.8 C934.5,1162.7 936.1,1163.5 938.2,1164.9 C940.3,1166.3 942.4,1168.4 944.4,1170.3 C946.4,1172.2 948.2,1173.8 950.3,1176.5 C952.4,1179.2 954.7,1183.1 956.8,1186.6 C958.9,1190.1 961.0,1193.8 963.0,1197.4 C965.1,1201.1 967.4,1204.9 969.2,1208.3 C971.1,1211.7 973.4,1216.3 974.2,1217.9" fill="none" stroke="#6ccbe6" stroke-width="1.35"/>
<path d="M735.6,1185.8 C746.8,1185.9 780.2,1186.3 802.6,1186.6 C824.9,1186.8 853.9,1187.2 869.5,1187.4 C885.2,1187.6 888.5,1187.6 896.4,1187.8 C904.2,1188.0 912.0,1188.3 916.5,1188.4 C921.0,1188.6 920.9,1188.6 923.5,1188.9 C926.1,1189.2 929.6,1189.6 932.0,1190.2 C934.5,1190.7 936.1,1191.4 938.2,1192.5 C940.3,1193.5 942.4,1194.9 944.4,1196.4 C946.4,1197.8 948.2,1199.0 950.3,1201.0 C952.4,1203.0 954.6,1205.5 956.8,1208.3 C959.1,1211.1 962.6,1216.3 963.8,1217.9" fill="none" stroke="#9a8a88" stroke-width="1.35"/>
<path d="M735.6,1052.3 L730.4,1066.3999999999999 L740.8000000000001,1066.3999999999999 Z" fill="#1a1a1a"/>
<path d="M1004.0,1217.9 L989.4,1213.0 L989.4,1222.8000000000002 Z" fill="#1a1a1a"/>
<text x="727.7" y="1045.36" font-size="9.1" text-anchor="start" fill="#444" stroke="#444" stroke-width="0.2">I(A)</text>
<text x="728.8" y="1056.49" font-size="8.9" text-anchor="end" fill="#444" stroke="#444" stroke-width="0.2">15</text>
<text x="728.8" y="1086.19" font-size="8.9" text-anchor="end" fill="#444" stroke="#444" stroke-width="0.2">12.5</text>
<text x="728.8" y="1112.59" font-size="8.9" text-anchor="end" fill="#444" stroke="#444" stroke-width="0.2">10</text>
<text x="728.8" y="1139.89" font-size="8.9" text-anchor="end" fill="#444" stroke="#444" stroke-width="0.2">7.5</text>
<text x="728.8" y="1166.79" font-size="8.9" text-anchor="end" fill="#444" stroke="#444" stroke-width="0.2">5</text>
<text x="728.8" y="1195.19" font-size="8.9" text-anchor="end" fill="#444" stroke="#444" stroke-width="0.2">2.5</text>
<text x="729.0" y="1228.19" font-size="8.9" text-anchor="middle" fill="#444" stroke="#444" stroke-width="0.2">0</text>
<text x="759.8" y="1228.19" font-size="8.9" text-anchor="middle" fill="#444" stroke="#444" stroke-width="0.2">5</text>
<text x="786.7" y="1228.19" font-size="8.9" text-anchor="middle" fill="#444" stroke="#444" stroke-width="0.2">10</text>
<text x="813.6" y="1228.19" font-size="8.9" text-anchor="middle" fill="#444" stroke="#444" stroke-width="0.2">15</text>
<text x="840.5" y="1228.19" font-size="8.9" text-anchor="middle" fill="#444" stroke="#444" stroke-width="0.2">20</text>
<text x="867.4" y="1228.19" font-size="8.9" text-anchor="middle" fill="#444" stroke="#444" stroke-width="0.2">25</text>
<text x="894.3" y="1228.19" font-size="8.9" text-anchor="middle" fill="#444" stroke="#444" stroke-width="0.2">30</text>
<text x="921.2" y="1228.19" font-size="8.9" text-anchor="middle" fill="#444" stroke="#444" stroke-width="0.2">35</text>
<text x="948.1" y="1228.19" font-size="8.9" text-anchor="middle" fill="#444" stroke="#444" stroke-width="0.2">40</text>
<text x="975.0" y="1228.19" font-size="8.9" text-anchor="middle" fill="#444" stroke="#444" stroke-width="0.2">45</text>
<text x="1006.0" y="1228.19" font-size="8.9" text-anchor="middle" fill="#444" stroke="#444" stroke-width="0.2">50</text>
<text x="1011.0" y="1241.38" font-size="8.6" text-anchor="middle" fill="#444" stroke="#444" stroke-width="0.2">U(V)</text>
<text x="799.4" y="1033.59" font-size="10.3" text-anchor="start" fill="#444" stroke="#444" stroke-width="0.2" textLength="139.5" lengthAdjust="spacingAndGlyphs">Current-Voltage&#160; Curve(505W)</text>
<text x="748.8" y="1072.53" font-size="5.4" text-anchor="start" fill="#444" stroke="#444" stroke-width="0.08">1000W/m</text>
<text x="772.1" y="1069.55" font-size="3.2" text-anchor="start" fill="#444" stroke="#444" stroke-width="0.08">2</text>
<text x="752.0" y="1102.43" font-size="5.4" text-anchor="start" fill="#444" stroke="#444" stroke-width="0.08">800W/m</text>
<text x="772.3" y="1099.45" font-size="3.2" text-anchor="start" fill="#444" stroke="#444" stroke-width="0.08">2</text>
<text x="752.0" y="1134.23" font-size="5.4" text-anchor="start" fill="#444" stroke="#444" stroke-width="0.08">600W/m</text>
<text x="772.3" y="1131.25" font-size="3.2" text-anchor="start" fill="#444" stroke="#444" stroke-width="0.08">2</text>
<text x="752.0" y="1168.03" font-size="5.4" text-anchor="start" fill="#444" stroke="#444" stroke-width="0.08">400W/m</text>
<text x="772.3" y="1165.05" font-size="3.2" text-anchor="start" fill="#444" stroke="#444" stroke-width="0.08">2</text>
<text x="752.0" y="1198.13" font-size="5.4" text-anchor="start" fill="#444" stroke="#444" stroke-width="0.08">200W/m</text>
<text x="772.3" y="1195.15" font-size="3.2" text-anchor="start" fill="#444" stroke="#444" stroke-width="0.08">2</text>
</svg>
<div class="t" style="top:21.04px;font-size:21.2px;left:66.00px;font-weight:bold;-webkit-text-stroke-width:0;color:#fff;">Electrical Specifications</div>
<div class="t" style="top:63.16px;font-size:14.2px;left:-47.00px;width:400px;text-align:center;letter-spacing:-0.005px;">Module Type</div>
<div class="t" style="top:54.66px;font-size:14.2px;left:159.60px;width:400px;text-align:center;">DM490M10-66HBB</div>
<div class="t" style="top:76.16px;font-size:14.2px;left:159.60px;width:400px;text-align:center;">DM490M10-66HBB-V</div>
<div class="t" style="top:54.66px;font-size:14.2px;left:347.30px;width:400px;text-align:center;">DM495M10-66HBB</div>
<div class="t" style="top:76.16px;font-size:14.2px;left:347.30px;width:400px;text-align:center;">DM495M10-66HBB-V</div>
<div class="t" style="top:54.66px;font-size:14.2px;left:530.30px;width:400px;text-align:center;">DM500M10-66HBB</div>
<div class="t" style="top:76.16px;font-size:14.2px;left:530.30px;width:400px;text-align:center;">DM500M10-66HBB-V</div>
<div class="t" style="top:54.66px;font-size:14.2px;left:716.40px;width:400px;text-align:center;">DM505M10-66HBB</div>
<div class="t" style="top:76.16px;font-size:14.2px;left:716.40px;width:400px;text-align:center;">DM505M10-66HBB-V</div>
<div class="t" style="top:105.86px;font-size:14.2px;left:-37.20px;width:400px;text-align:center;letter-spacing:-0.033px;">Testing Condition</div>
<div class="t" style="top:107.16px;font-size:14.2px;left:113.80px;width:400px;text-align:center;">STC</div>
<div class="t" style="top:107.16px;font-size:14.2px;left:204.80px;width:400px;text-align:center;">NOCT</div>
<div class="t" style="top:107.16px;font-size:14.2px;left:296.30px;width:400px;text-align:center;">STC</div>
<div class="t" style="top:107.16px;font-size:14.2px;left:391.30px;width:400px;text-align:center;">NOCT</div>
<div class="t" style="top:107.16px;font-size:14.2px;left:483.50px;width:400px;text-align:center;">STC</div>
<div class="t" style="top:107.16px;font-size:14.2px;left:576.00px;width:400px;text-align:center;">NOCT</div>
<div class="t" style="top:107.16px;font-size:14.2px;left:663.80px;width:400px;text-align:center;">STC</div>
<div class="t" style="top:107.16px;font-size:14.2px;left:761.80px;width:400px;text-align:center;">NOCT</div>
<div class="t" style="top:141.36px;font-size:14.2px;left:-35.00px;width:400px;text-align:center;letter-spacing:0.101px;">Maximum Power (Pmax/W)</div>
<div class="t" style="top:140.66px;font-size:14.2px;left:113.50px;width:400px;text-align:center;">490</div>
<div class="t" style="top:140.66px;font-size:14.2px;left:205.00px;width:400px;text-align:center;">371</div>
<div class="t" style="top:140.66px;font-size:14.2px;left:298.00px;width:400px;text-align:center;">495</div>
<div class="t" style="top:140.66px;font-size:14.2px;left:393.50px;width:400px;text-align:center;">375</div>
<div class="t" style="top:140.66px;font-size:14.2px;left:487.50px;width:400px;text-align:center;">500</div>
<div class="t" style="top:140.66px;font-size:14.2px;left:577.50px;width:400px;text-align:center;">379</div>
<div class="t" style="top:140.66px;font-size:14.2px;left:670.50px;width:400px;text-align:center;">505</div>
<div class="t" style="top:140.66px;font-size:14.2px;left:763.00px;width:400px;text-align:center;">383</div>
<div class="t" style="top:176.86px;font-size:13.65px;left:-35.20px;width:400px;text-align:center;letter-spacing:0.015px;">Maximum Power Current (Imp/A)</div>
<div class="t" style="top:176.66px;font-size:14.2px;left:111.50px;width:400px;text-align:center;">13.06</div>
<div class="t" style="top:176.66px;font-size:14.2px;left:204.00px;width:400px;text-align:center;">10.36</div>
<div class="t" style="top:176.66px;font-size:14.2px;left:296.50px;width:400px;text-align:center;">13.14</div>
<div class="t" style="top:176.66px;font-size:14.2px;left:391.00px;width:400px;text-align:center;">10.42</div>
<div class="t" style="top:176.66px;font-size:14.2px;left:485.50px;width:400px;text-align:center;">13.22</div>
<div class="t" style="top:176.66px;font-size:14.2px;left:576.00px;width:400px;text-align:center;">10.48</div>
<div class="t" style="top:176.66px;font-size:14.2px;left:668.50px;width:400px;text-align:center;">13.29</div>
<div class="t" style="top:176.66px;font-size:14.2px;left:761.50px;width:400px;text-align:center;">10.54</div>
<div class="t" style="top:212.36px;font-size:13.65px;left:-35.20px;width:400px;text-align:center;letter-spacing:-0.176px;">Maximum Power Voltage (Vmp/V)</div>
<div class="t" style="top:211.66px;font-size:14.2px;left:111.50px;width:400px;text-align:center;">37.52</div>
<div class="t" style="top:211.66px;font-size:14.2px;left:204.00px;width:400px;text-align:center;">35.87</div>
<div class="t" style="top:211.66px;font-size:14.2px;left:296.50px;width:400px;text-align:center;">37.68</div>
<div class="t" style="top:211.66px;font-size:14.2px;left:391.00px;width:400px;text-align:center;">36.02</div>
<div class="t" style="top:211.66px;font-size:14.2px;left:485.50px;width:400px;text-align:center;">37.84</div>
<div class="t" style="top:211.66px;font-size:14.2px;left:576.00px;width:400px;text-align:center;">36.17</div>
<div class="t" style="top:211.66px;font-size:14.2px;left:668.30px;width:400px;text-align:center;">38.01</div>
<div class="t" style="top:211.66px;font-size:14.2px;left:761.50px;width:400px;text-align:center;">36.34</div>
<div class="t" style="top:248.36px;font-size:14.2px;left:-35.20px;width:400px;text-align:center;letter-spacing:0.075px;">Short-circuit Current (Isc/A)</div>
<div class="t" style="top:246.66px;font-size:14.2px;left:111.20px;width:400px;text-align:center;">13.91</div>
<div class="t" style="top:246.66px;font-size:14.2px;left:204.50px;width:400px;text-align:center;">11.16</div>
<div class="t" style="top:246.66px;font-size:14.2px;left:296.50px;width:400px;text-align:center;">13.99</div>
<div class="t" style="top:246.66px;font-size:14.2px;left:391.50px;width:400px;text-align:center;">11.22</div>
<div class="t" style="top:246.66px;font-size:14.2px;left:485.50px;width:400px;text-align:center;">14.07</div>
<div class="t" style="top:246.66px;font-size:14.2px;left:576.50px;width:400px;text-align:center;">11.29</div>
<div class="t" style="top:246.66px;font-size:14.2px;left:668.00px;width:400px;text-align:center;">14.14</div>
<div class="t" style="top:246.66px;font-size:14.2px;left:762.00px;width:400px;text-align:center;">11.34</div>
<div class="t" style="top:282.36px;font-size:14.2px;left:-35.00px;width:400px;text-align:center;letter-spacing:0.06px;">Open-circuit Voltage (Voc/V)</div>
<div class="t" style="top:282.16px;font-size:14.2px;left:111.50px;width:400px;text-align:center;">45.32</div>
<div class="t" style="top:282.16px;font-size:14.2px;left:204.00px;width:400px;text-align:center;">43.04</div>
<div class="t" style="top:282.16px;font-size:14.2px;left:296.50px;width:400px;text-align:center;">45.46</div>
<div class="t" style="top:282.16px;font-size:14.2px;left:391.00px;width:400px;text-align:center;">43.18</div>
<div class="t" style="top:282.16px;font-size:14.2px;left:485.50px;width:400px;text-align:center;">45.60</div>
<div class="t" style="top:282.16px;font-size:14.2px;left:575.80px;width:400px;text-align:center;">43.31</div>
<div class="t" style="top:282.16px;font-size:14.2px;left:668.50px;width:400px;text-align:center;">45.73</div>
<div class="t" style="top:282.16px;font-size:14.2px;left:761.30px;width:400px;text-align:center;">43.44</div>
<div class="t" style="top:316.86px;font-size:14.2px;left:-35.50px;width:400px;text-align:center;letter-spacing:0.067px;">Module Efficiency STC (%)</div>
<div class="t" style="top:318.16px;font-size:14.2px;left:162.50px;width:400px;text-align:center;">20.64%</div>
<div class="t" style="top:318.16px;font-size:14.2px;left:346.50px;width:400px;text-align:center;">20.85%</div>
<div class="t" style="top:318.16px;font-size:14.2px;left:532.50px;width:400px;text-align:center;">21.06%</div>
<div class="t" style="top:318.16px;font-size:14.2px;left:710.50px;width:400px;text-align:center;">21.27%</div>
<div class="t" style="top:353.34px;font-size:12.4px;left:334.00px;letter-spacing:0.046px;">Pmax Tolerance 0/+3%</div>
<div class="t" style="top:353.34px;font-size:12.4px;left:477.50px;">STC:AM1.5 1000W/m<span style="font-size:7px;position:relative;top:-4px;letter-spacing:0">2</span> 25°C</div>
<div class="t" style="top:353.34px;font-size:12.4px;left:644.00px;">NOCT:AM1.5 800W/m<span style="font-size:7px;position:relative;top:-4px;letter-spacing:0">2</span> 20°C 1m/s Measurement uncertainty:±3%</div>
<div class="t" style="top:402.74px;font-size:21.2px;left:67.50px;font-weight:bold;-webkit-text-stroke-width:0;color:#fff;">Mechanical Data</div>
<div class="t" style="top:434.68px;font-size:16px;left:66.50px;">Cell Type</div>
<div class="t" style="top:434.98px;font-size:16px;left:262.50px;">P type Mono-crystalline</div>
<div class="t" style="top:471.18px;font-size:16px;left:66.50px;">Cell Arrangement</div>
<div class="t" style="top:469.98px;font-size:16px;left:261.50px;">132(6x22)</div>
<div class="t" style="top:506.18px;font-size:16px;left:66.00px;">Module Dimensions</div>
<div class="t" style="top:506.68px;font-size:16px;left:261.00px;">2094x1134x35mm</div>
<div class="t" style="top:540.68px;font-size:16px;left:67.00px;">Weight</div>
<div class="t" style="top:539.18px;font-size:16px;left:261.50px;">26kg</div>
<div class="t" style="top:577.38px;font-size:16px;left:66.00px;">Module Structure</div>
<div class="t" style="top:574.98px;font-size:16px;left:261.50px;">Glass/Encapsulant/Backsheet</div>
<div class="t" style="top:610.68px;font-size:16px;left:66.50px;">Glass Thickness</div>
<div class="t" style="top:611.18px;font-size:16px;left:261.50px;">3.2mm</div>
<div class="t" style="top:647.18px;font-size:16px;left:66.00px;letter-spacing:0.058px;">PV Module Classification</div>
<div class="t" style="top:644.98px;font-size:16px;left:261.50px;">Class II</div>
<div class="t" style="top:680.68px;font-size:16px;left:66.50px;letter-spacing:0.05px;">Junction Box Rating</div>
<div class="t" style="top:682.18px;font-size:16px;left:261.50px;">IP68</div>
<div class="t" style="top:715.98px;font-size:16px;left:67.40px;">Cables</div>
<div class="t" style="top:717.18px;font-size:16px;left:261.50px;"></div>
<div class="t" style="top:768.68px;font-size:16px;left:66.50px;">Connector Type</div>
<div class="t" style="top:756.68px;font-size:16px;left:262.00px;">PV-ZH202B or MC4 (1000V)</div>
<div class="t" style="top:781.68px;font-size:16px;left:262.00px;transform:scaleX(0.974);transform-origin:0 0;">PV-ZH202B or MC4-EVO 2A (1500V)</div>
<div class="t" style="top:717.38px;font-size:16px;left:261.80px;transform:scaleX(0.929);transform-origin:0 0;">4mm²/1300mm or Customized Length</div>
<div class="t" style="top:398.04px;font-size:21.2px;left:551.30px;font-weight:bold;-webkit-text-stroke-width:0;color:#fff;">Packaging</div>
<div class="t" style="top:433.88px;font-size:16px;left:553.50px;">Pallet Dimensions</div>
<div class="t" style="top:435.68px;font-size:16px;left:771.00px;">2145×1140×1250mm</div>
<div class="t" style="top:470.48px;font-size:16px;left:552.80px;">Container</div>
<div class="t" style="top:470.68px;font-size:16px;left:775.00px;">40&#x27;HQ</div>
<div class="t" style="top:504.98px;font-size:16px;left:552.30px;">Pieces per Pallet</div>
<div class="t" style="top:505.68px;font-size:16px;left:775.00px;">31</div>
<div class="t" style="top:540.58px;font-size:16px;left:552.30px;">Pieces per Container</div>
<div class="t" style="top:540.98px;font-size:16px;left:775.00px;">682</div>
<div class="t" style="top:615.24px;font-size:21.2px;left:550.00px;font-weight:bold;-webkit-text-stroke-width:0;color:#fff;">Temperature Characteristics</div>
<div class="t" style="top:657.68px;font-size:16px;left:553.50px;letter-spacing:0.038px;">Nominal Operating Cell</div>
<div class="t" style="top:675.98px;font-size:16px;left:553.50px;letter-spacing:0.175px;">Temperature(NOCT)</div>
<div class="t" style="top:667.68px;font-size:16px;left:832.00px;">42±3°C</div>
<div class="t" style="top:717.18px;font-size:16px;left:553.50px;">Temperature Coefficient of Isc</div>
<div class="t" style="top:717.68px;font-size:16px;left:831.50px;">+0.0448%/°C</div>
<div class="t" style="top:751.68px;font-size:16px;left:553.50px;">Temperature Coefficient of Voc</div>
<div class="t" style="top:752.18px;font-size:16px;left:831.50px;">-0.246%/°C</div>
<div class="t" style="top:787.18px;font-size:16px;left:553.50px;">Temperature Coefficient of Pmax</div>
<div class="t" style="top:787.68px;font-size:16px;left:831.50px;">-0.330%/°C</div>
<div class="t" style="top:836.54px;font-size:21.2px;left:65.50px;font-weight:bold;-webkit-text-stroke-width:0;color:#fff;">Maximum Ratings</div>
<div class="t" style="top:869.98px;font-size:16px;left:67.30px;letter-spacing:-0.012px;">Operating Temperature</div>
<div class="t" style="top:870.98px;font-size:16px;left:307.00px;letter-spacing:0.253px;">-40°C to+85°C</div>
<div class="t" style="top:870.78px;font-size:16px;left:546.30px;letter-spacing:0.086px;">Maximum Series Fuse Rating</div>
<div class="t" style="top:871.68px;font-size:16px;left:797.00px;">25A</div>
<div class="t" style="top:905.48px;font-size:16px;left:67.30px;letter-spacing:0.046px;">Maximum Load Capacity</div>
<div class="t" style="top:907.18px;font-size:16px;left:311.00px;letter-spacing:0.107px;">Snow 5400Pa/Wind 2400Pa</div>
<div class="t" style="top:907.78px;font-size:16px;left:546.30px;letter-spacing:-0.01px;">Number of Diodes</div>
<div class="t" style="top:907.98px;font-size:16px;left:797.00px;">3</div>
<div class="t" style="top:940.48px;font-size:16px;left:67.30px;letter-spacing:-0.022px;">Maximum System Voltage</div>
<div class="t" style="top:941.18px;font-size:16px;left:307.00px;letter-spacing:0.23px;">1000V/1500V DC(IEC)</div>
<div class="t" style="top:940.78px;font-size:16px;left:546.30px;letter-spacing:-0.044px;">Fire Rating Class</div>
<div class="t" style="top:941.68px;font-size:16px;left:796.00px;">Class C</div>
<div class="t" style="top:1314.93px;font-size:11.4px;left:90.40px;font-weight:bold;-webkit-text-stroke-width:0;letter-spacing:-0.064px;">Statement</div>
<div class="t" style="top:1314.94px;font-size:12.1px;left:148.80px;">:</div>
<div class="t" style="top:1314.94px;font-size:12.1px;left:161.50px;letter-spacing:0.017px;">Due to technological progress, product parameters will be adjusted accordingly; When signing the contract, the latest data of the company shall prevail.</div>
</body></html>
